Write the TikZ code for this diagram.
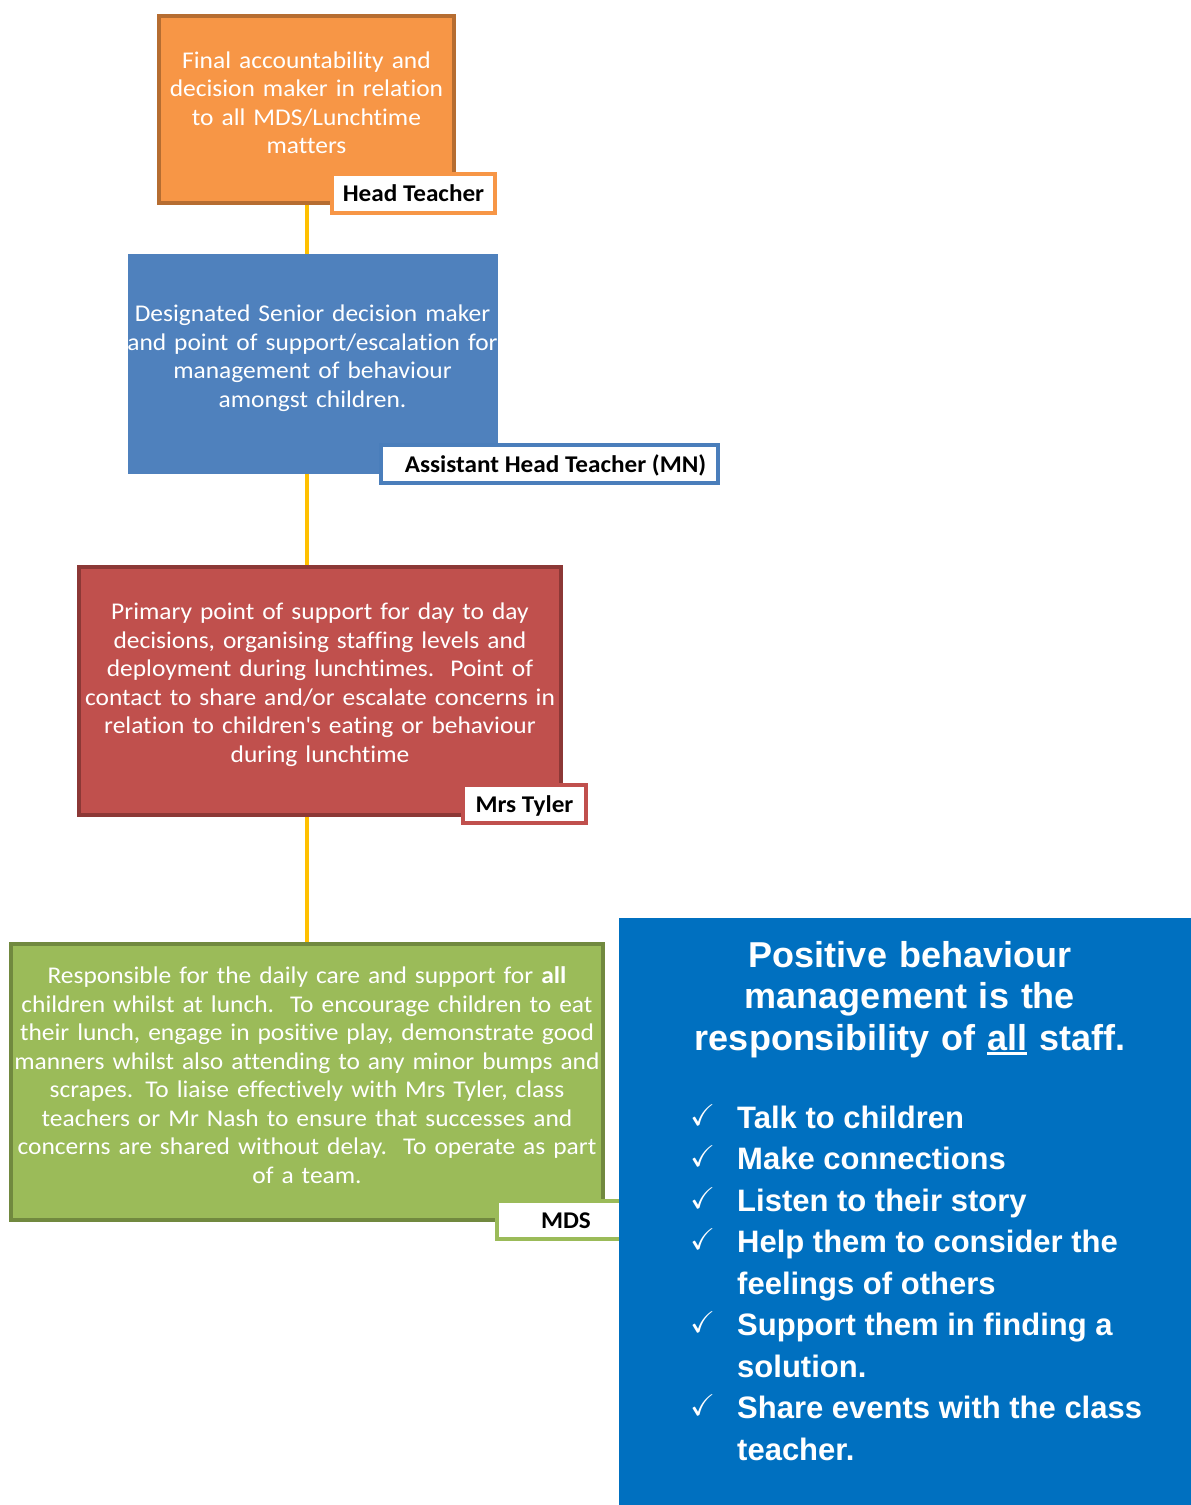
\documentclass[tikz,border=0pt]{standalone}
\usepackage{amssymb}
\usepackage{fontspec}
\setmainfont{Carlito}[FakeStretch=1.06, WordSpace=0.55, Ligatures={NoCommon}]
\newfontfamily\tagfont{Carlito}[FakeStretch=1.05, Ligatures={NoCommon}]
\newfontfamily\arialf{Liberation Sans}
\usetikzlibrary{backgrounds}
\definecolor{orfill}{HTML}{F79646}
\definecolor{ordark}{HTML}{B66D31}
\definecolor{blfill}{HTML}{4F81BD}
\definecolor{bldark}{HTML}{4A7EBB}
\definecolor{rdfill}{HTML}{C0504D}
\definecolor{rddark}{HTML}{8C3836}
\definecolor{grfill}{HTML}{9BBB59}
\definecolor{grdark}{HTML}{71893F}
\definecolor{linkyellow}{HTML}{FFC000}
\definecolor{panelblue}{HTML}{0070C0}
\newcommand\myul[1]{\setbox0\hbox{#1}\rlap{\rule[-5pt]{\wd0}{3.5pt}}\box0\relax}
\begin{document}
\begin{tikzpicture}[x=1pt,y=-1pt,
  box/.style={rectangle, line width=4pt, inner sep=0pt, outer sep=0pt},
  body/.style={text=white, align=center, anchor=base, inner sep=0pt,
    font=\fontsize{24}{28.5}\selectfont},
  tag/.style={rectangle, fill=white, line width=4pt, inner sep=0pt, outer sep=0pt,
    text height=16pt, text depth=0pt, font=\tagfont\bfseries\fontsize{24}{28}\selectfont},
  link/.style={draw=linkyellow, line width=4pt},
  item/.style={anchor=base west, inner sep=0pt, text=white,
    font=\arialf\bfseries\fontsize{31}{41.5}\selectfont},
  tick/.style={anchor=base west, inner sep=0pt, text=white,
    font=\fontsize{30}{30}\selectfont}]
\useasboundingbox (0,0) rectangle (1191,1505);

% Head teacher
\node[box, fill=orfill, draw=ordark, minimum width=295pt, minimum height=187pt] (head) at (306.5,109.5) {};
\node[body, text width=300pt] (headtext) at (306.5,68)
  {Final accountability and\\decision maker in relation\\to all MDS/Lunchtime\\matters};
\node[tag, draw=orfill, minimum width=163pt, minimum height=39pt] (headtag) at (413.5,193.5) {Head Teacher};

% Assistant head
\node[box, fill=blfill, draw=blfill, line width=0.8pt, minimum width=369pt, minimum height=219pt] (aht) at (312.5,363.5) {};
\node[body, text width=400pt] (ahttext) at (312.5,321.5)
  {Designated Senior decision maker\\and point of support/escalation for\\management of behaviour\\amongst children.};
\node[tag, draw=bldark, minimum width=337pt, minimum height=38pt] (ahttag) at (549.5,464) {\hspace*{12pt}Assistant Head Teacher (MN)};

% Mrs Tyler
\node[box, fill=rdfill, draw=rddark, minimum width=482pt, minimum height=248pt] (red) at (320,691) {};
\node[body, text width=500pt] (redtext) at (320,619.5)
  {Primary point of support for day to day\\decisions, organising staffing levels and\\deployment during lunchtimes.\ \ Point of\\contact to share and/or escalate concerns in\\relation to children\textquotesingle s eating or behaviour\\during lunchtime};
\node[tag, draw=rdfill, minimum width=123pt, minimum height=38pt] (redtag) at (524.5,804) {Mrs Tyler};

% MDS
\node[box, fill=grfill, draw=grdark, minimum width=592pt, minimum height=276pt] (green) at (307,1082) {};
\node[body, text width=600pt] (greentext) at (307,983.5)
  {Responsible for the daily care and support for \textbf{all}\\children whilst at lunch.\ \ To encourage children to eat\\their lunch, engage in positive play, demonstrate good\\manners whilst also attending to any minor bumps and\\scrapes. To liaise effectively with Mrs Tyler, class\\teachers or Mr Nash to ensure that successes and\\concerns are shared without delay.\ \ To operate as part\\of a team.};
\node[tag, draw=grfill, minimum width=138pt, minimum height=38pt] (greentag) at (566,1220) {MDS};

% connectors
\begin{scope}[on background layer]
\draw[link] (head.south) -- ([yshift=-4pt]head.south |- aht.north);
\draw[link] ([yshift=5pt]aht.south -| head.south) -- (red.north -| head.south);
\draw[link] (red.south -| head.south) -- (green.north -| head.south);
\end{scope}

% panel
\node[fill=panelblue, minimum width=572pt, minimum height=587pt, inner sep=0pt, outer sep=0pt, anchor=north west] (panel) at (619,918) {};
\node[anchor=base, align=center, inner sep=0pt, text=white, text width=560pt,
  font=\arialf\bfseries\fontsize{36}{41.5}\selectfont] (title) at (910,967)
  {Positive behaviour\\management is the\\responsibility of \myul{all} staff.};
\foreach \n/\yy/\t/\c in {1/1128/Talk to children/1, 2/1169.5/Make connections/1,
  3/1211/Listen to their story/1, 4/1252.5/Help them to consider the/1,
  5/1294/feelings of others/0, 6/1335.5/Support them in finding a/1,
  7/1377/solution./0, 8/1418.5/Share events with the class/1, 9/1460/teacher./0}{
  \node[item] (li\n) at (737,\yy) {\t};
  \ifnum\c=1 \node[tick] (ck\n) at (690,\yy) {\raisebox{3pt}{$\checkmark$}};\fi
}
\end{tikzpicture}
\end{document}
